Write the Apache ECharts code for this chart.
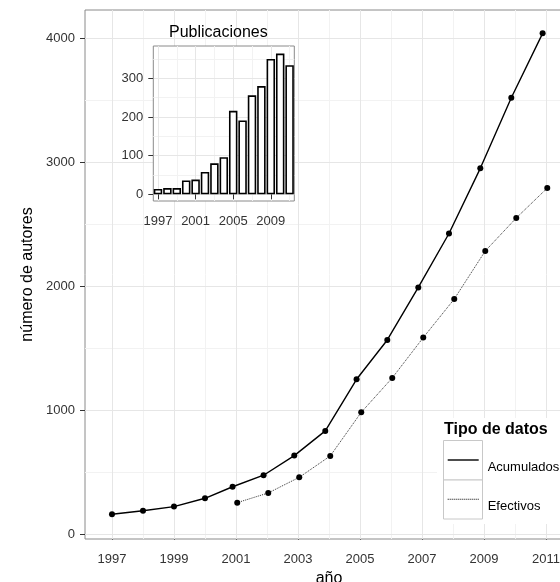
<!DOCTYPE html>
<html><head><meta charset="utf-8">
<script src="https://cdn.jsdelivr.net/npm/echarts@6/dist/echarts.min.js"></script>
<style>html,body{margin:0;padding:0;background:#fff}#c{width:560px;height:582px}</style>
</head><body><div id="c"></div>
<script>
// ---- data ----
const acumYears  = [1997, 1998, 1999, 2000, 2000.89, 2001.89, 2002.88, 2003.88, 2004.89, 2005.88, 2006.88, 2007.87, 2008.88, 2009.88, 2010.89];
const acumValues = [164, 193, 226, 293, 386, 479, 637, 836, 1252, 1569, 1992, 2427, 2952, 3521, 4040];
const efecYears  = [2001.04, 2002.04, 2003.04, 2004.04, 2005.04, 2006.04, 2007.04, 2008.04, 2009.04, 2010.04, 2011.04];
const efecValues = [258, 336, 462, 634, 986, 1263, 1588, 1899, 2286, 2552, 2793];

const pubYears  = ['1997','1998','1999','2000','2001','2002','2003','2004','2005','2006','2007','2008','2009','2010','2011'];
const pubValues = [14, 16, 16, 36, 38, 58, 80, 96, 216, 191, 256, 280, 350, 364, 334];

const xTicks      = [1997, 1999, 2001, 2003, 2005, 2007, 2009, 2011];
const xMinorGrid  = [1998, 2000, 2002, 2004, 2006, 2008, 2010];
const yTicks      = [0, 1000, 2000, 3000, 4000];
const yMinorGrid  = [500, 1500, 2500, 3500];
const insetYTicks = [0, 100, 200, 300];
const insetYMinor = [50, 150, 250, 350];
const insetXTicks = ['1997', '2001', '2005', '2009'];
const insetXMinor = ['1999', '2003', '2007', '2011'];

const seriesNames = ['Acumulados', 'Efectivos'];
const legendTitle = 'Tipo de datos';
const insetTitle = 'Publicaciones';
const xName = 'año';
const yName = 'número de autores';

// ---- chart ----
const FONT = 'Liberation Sans, Arial, sans-serif';
const MAJOR = '#e6e6e6', MINOR = '#f2f2f2', BORDER = '#8a8a8a', TXT = '#333';
const fmt = v => String(v);

let dots = 'path://';
for (let i = 0; i < 16; i++) dots += 'M' + (2 * i) + ',0h1v1h-1z ';

function gridLines(xs, ys, color) {
  return xs.map(v => ({ xAxis: v, lineStyle: { color } }))
           .concat(ys.map(v => ({ yAxis: v, lineStyle: { color } })));
}

const legendText = { fontSize: 13, color: '#000', lineHeight: 15, padding: [0, 0, 0, 4], fontFamily: FONT };

const chart = echarts.init(document.getElementById('c'), null, { renderer: 'canvas' });
chart.setOption({
  animation: false,
  textStyle: { fontFamily: FONT },
  title: [
    { text: insetTitle, left: 169, top: 25, padding: 0, z: 10,
      textStyle: { fontSize: 16, fontWeight: 'normal', color: '#000', fontFamily: FONT } },
    { text: legendTitle, left: 444, top: 422, padding: 0, z: 10,
      textStyle: { fontSize: 16, fontWeight: 'bold', color: '#000', fontFamily: FONT } }
  ],
  graphic: [
    { type: 'rect', silent: true, z: 7, shape: { x: 437, y: 418, width: 130, height: 106 }, style: { fill: '#fff' } },
    { type: 'rect', silent: true, z: 7, shape: { x: 443.5, y: 440.5, width: 39, height: 39.5 }, style: { fill: '#fff', stroke: '#c8c8c8', lineWidth: 1 } },
    { type: 'rect', silent: true, z: 7, shape: { x: 443.5, y: 480, width: 39, height: 39 }, style: { fill: '#fff', stroke: '#c8c8c8', lineWidth: 1 } }
  ],
  legend: [
    { data: [seriesNames[0]], orient: 'vertical', left: 447.7, top: 445, padding: 0, z: 10,
      itemWidth: 31, itemHeight: 1.4, icon: 'path://M0,0H31V1H0Z', symbolKeepAspect: false,
      itemStyle: { borderWidth: 0 }, formatter: n => '\n' + n, textStyle: legendText },
    { data: [seriesNames[1]], orient: 'vertical', left: 447.7, top: 484.3, padding: 0, z: 10,
      itemWidth: 31, itemHeight: 1, icon: dots, symbolKeepAspect: false,
      itemStyle: { borderWidth: 0 }, formatter: n => '\n' + n, textStyle: legendText }
  ],
  grid: [
    { left: 85, top: 10, width: 488, height: 529, outerBoundsMode: 'none', containLabel: false,
      show: true, borderColor: BORDER, borderWidth: 1, backgroundColor: 'transparent', z: 0 },
    { left: 153.3, top: 46, width: 141, height: 155, outerBoundsMode: 'none', containLabel: false,
      show: true, borderColor: BORDER, borderWidth: 1, backgroundColor: '#fff', z: 3 }
  ],
  xAxis: [
    { type: 'value', gridIndex: 0, min: 1996.13, max: 2011.87,
      axisLine: { show: false },
      axisTick: { show: true, length: 5, customValues: xTicks, lineStyle: { color: TXT, width: 1 } },
      axisLabel: { customValues: xTicks, formatter: fmt, margin: 14, fontSize: 13, color: TXT, fontFamily: FONT },
      splitLine: { show: false },
      name: xName, nameLocation: 'middle', nameGap: 30,
      nameTextStyle: { fontSize: 16, color: '#000', fontFamily: FONT } },
    { type: 'category', gridIndex: 1, data: pubYears, z: 6,
      axisLine: { show: false },
      axisTick: { show: true, length: 5, alignWithLabel: true, interval: 3, lineStyle: { color: TXT, width: 1 } },
      axisLabel: { interval: 3, margin: 14, fontSize: 13, color: TXT, fontFamily: FONT },
      splitLine: { show: false } }
  ],
  yAxis: [
    { type: 'value', gridIndex: 0, min: -35, max: 4228,
      axisLine: { show: false },
      axisTick: { show: true, length: 5, customValues: yTicks, lineStyle: { color: TXT, width: 1 } },
      axisLabel: { customValues: yTicks, formatter: fmt, margin: 10, fontSize: 13, color: TXT, fontFamily: FONT },
      splitLine: { show: false },
      name: yName, nameLocation: 'middle', nameGap: 45, nameRotate: 90,
      nameTextStyle: { fontSize: 16, color: '#000', fontFamily: FONT } },
    { type: 'value', gridIndex: 1, min: -17.3, max: 383.5, z: 6,
      axisLine: { show: false },
      axisTick: { show: true, length: 5, customValues: insetYTicks, lineStyle: { color: TXT, width: 1 } },
      axisLabel: { customValues: insetYTicks, formatter: fmt, margin: 10, fontSize: 13, color: TXT, fontFamily: FONT },
      splitLine: { show: false } }
  ],
  series: [
    { type: 'line', xAxisIndex: 0, yAxisIndex: 0, data: [], silent: true, z: 1,
      markLine: { silent: true, z: 1, symbol: ['none', 'none'], label: { show: false }, animation: false,
        lineStyle: { type: 'solid', width: 1 },
        data: gridLines(xMinorGrid, yMinorGrid, MINOR).concat(gridLines(xTicks, yTicks, MAJOR)) } },
    { name: seriesNames[0], type: 'line', xAxisIndex: 0, yAxisIndex: 0, z: 2,
      data: acumYears.map((x, i) => [x, acumValues[i]]),
      symbol: 'circle', symbolSize: 6, showSymbol: true,
      itemStyle: { color: '#000', borderWidth: 0 },
      lineStyle: { color: '#000', width: 1.4, type: 'solid' } },
    { name: seriesNames[1], type: 'line', xAxisIndex: 0, yAxisIndex: 0, z: 2,
      data: efecYears.map((x, i) => [x, efecValues[i]]),
      symbol: 'circle', symbolSize: 6, showSymbol: true,
      itemStyle: { color: '#000', borderWidth: 0 },
      lineStyle: { color: '#333', width: 1, type: 'dotted' } },
    { type: 'line', xAxisIndex: 1, yAxisIndex: 1, data: [], silent: true, z: 4,
      markLine: { silent: true, z: 4, symbol: ['none', 'none'], label: { show: false }, animation: false,
        lineStyle: { type: 'solid', width: 1 },
        data: gridLines(insetXMinor, insetYMinor, MINOR).concat(gridLines(insetXTicks, insetYTicks, MAJOR)) } },
    { name: insetTitle, type: 'bar', xAxisIndex: 1, yAxisIndex: 1, z: 5,
      data: pubValues, barCategoryGap: '10%',
      itemStyle: { color: '#fff', borderColor: '#000', borderWidth: 1.6 } }
  ]
});
</script></body></html>
